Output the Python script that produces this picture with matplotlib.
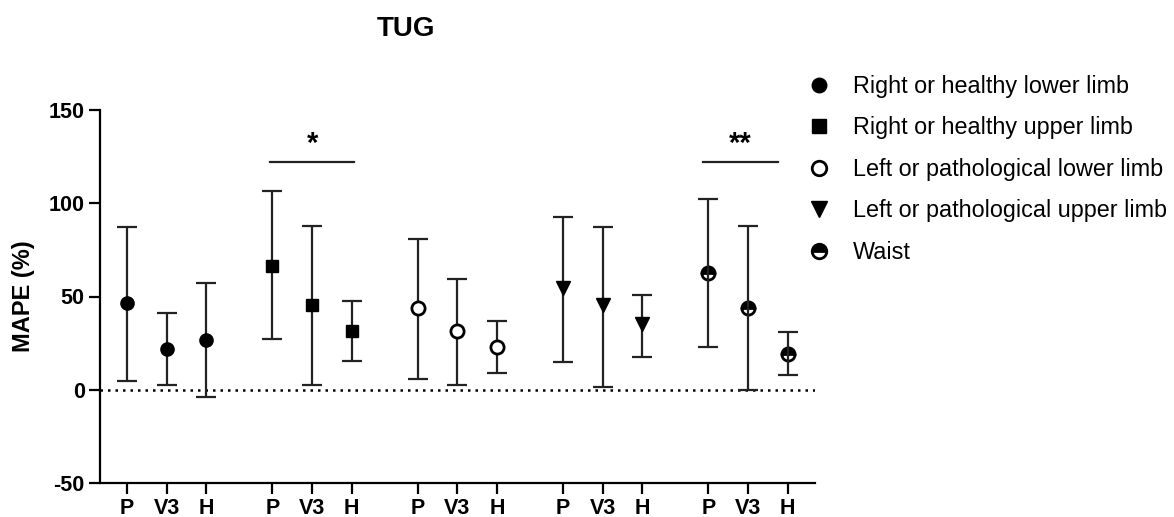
import matplotlib
matplotlib.use("Agg")
import matplotlib.pyplot as plt
from matplotlib.lines import Line2D

plt.rcParams['font.family'] = ['Liberation Sans', 'DejaVu Sans']
plt.rcParams['axes.unicode_minus'] = False

# data
groups = ["Right or healthy lower limb", "Right or healthy upper limb",
          "Left or pathological lower limb", "Left or pathological upper limb",
          "Waist"]
tick_labels = ["P", "V3", "H"]

mean_vals = [[46.3, 21.7, 26.6],
             [66.5, 45.4, 31.6],
             [43.6, 31.3, 23.0],
             [54.7, 45.3, 35.0],
             [62.7, 43.6, 19.1]]
upper_vals = [[87.2, 41.0, 57.4],
              [106.5, 87.8, 47.7],
              [81.0, 59.5, 37.0],
              [92.6, 87.2, 50.8],
              [102.3, 87.6, 30.8]]
lower_vals = [[4.8, 2.7, -4.1],
              [27.2, 2.7, 15.5],
              [5.9, 2.7, 9.0],
              [14.9, 1.6, 17.7],
              [22.9, -0.2, 7.7]]

sig_labels = ["*", "**"]
sig_spans = [(3.62, 5.74), (14.55, 16.44)]
sig_height = 122.3

group_step = 3.67

marker_styles = [
    dict(marker='o', mfc='black', mec='black', ms=9.5),
    dict(marker='s', mfc='black', mec='black', ms=9),
    dict(marker='o', mfc='white', mec='black', ms=9.5, mew=2),
    dict(marker='v', mfc='black', mec='black', ms=10),
    dict(marker='o', mfc='black', mec='black', ms=9.5, mew=2,
         fillstyle='top', markerfacecoloralt='white'),
]

fig = plt.figure(figsize=(11.74, 5.17), dpi=100)
ax = fig.add_axes([100 / 1174, 1 - 483 / 517, 715 / 1174, 373 / 517])

xticks = []
xticklabels = []
for g in range(len(groups)):
    xs = [g * group_step + i for i in range(3)]
    xticks += xs
    xticklabels += tick_labels
    m = mean_vals[g]
    yerr = [[m[i] - lower_vals[g][i] for i in range(3)],
            [upper_vals[g][i] - m[i] for i in range(3)]]
    # waist error bars show through the white half of the marker
    ez = 4 if g == 4 else 2
    ax.errorbar(xs, m, yerr=yerr, fmt='none', ecolor='#222222',
                elinewidth=1.6, capsize=7.5, capthick=1.6, zorder=ez)
    ax.plot(xs, m, linestyle='none', zorder=3, **marker_styles[g])

ax.axhline(0, color='black', linestyle=(0, (1, 2)), linewidth=1.8, zorder=1)

for lab, (x0, x1) in zip(sig_labels, sig_spans):
    ax.plot([x0, x1], [sig_height, sig_height], color='#222222', lw=1.6)
    ax.text((x0 + x1) / 2, sig_height + 2, lab, ha='center', va='bottom',
            fontsize=21, fontweight='bold')

ax.set_xlim(-0.68, 17.37)
ax.set_ylim(-50, 150)
ax.set_yticks([-50, 0, 50, 100, 150])
ax.set_xticks(xticks)
ax.set_xticklabels(xticklabels)
for s in ['top', 'right']:
    ax.spines[s].set_visible(False)
for s in ['left', 'bottom']:
    ax.spines[s].set_linewidth(1.6)
ax.tick_params(axis='both', width=1.6, length=8, labelsize=15.5, pad=3)
for t in ax.get_xticklabels() + ax.get_yticklabels():
    t.set_fontweight('bold')
ax.set_ylabel("MAPE (%)", fontsize=17, fontweight='bold', labelpad=10)

fig.text(406 / 1174, 1 - 29 / 517, "TUG", ha='center', va='center',
         fontsize=20, fontweight='bold')

handles = [Line2D([], [], linestyle='none', **marker_styles[g]) for g in range(len(groups))]
ax.legend(handles, groups, loc='upper left', bbox_to_anchor=(784 / 1174, 1 - 54 / 517),
          bbox_transform=fig.transFigure, frameon=False, fontsize=16.8,
          handletextpad=0.85, labelspacing=0.79, handlelength=1.2, markerscale=1.1)

fig.savefig("out.png", dpi=100)
